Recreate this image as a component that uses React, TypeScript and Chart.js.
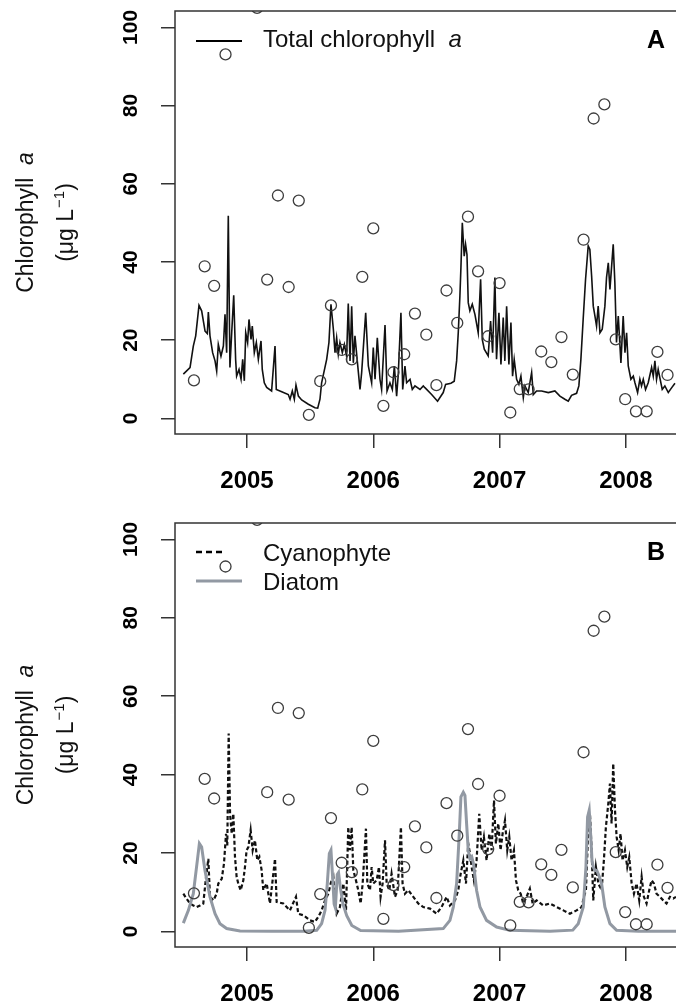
import React, { useEffect, useRef } from "react";
import { Chart, registerables } from "chart.js";

Chart.register(...registerables);

// ---------- data ----------
const yearTicks = [2005, 2006, 2007, 2008];
const yTicks = [0, 20, 40, 60, 80, 100];

const obsDates = [
  2004.58, 2004.665, 2004.74, 2004.83, 2005.08, 2005.16, 2005.245, 2005.33, 2005.41, 2005.49,
  2005.58, 2005.665, 2005.75, 2005.83, 2005.913, 2006.0, 2006.08, 2006.16, 2006.245, 2006.33,
  2006.42, 2006.5, 2006.58, 2006.665, 2006.75, 2006.83, 2006.91, 2007.0, 2007.085, 2007.16,
  2007.23, 2007.33, 2007.41, 2007.49, 2007.58, 2007.665, 2007.745, 2007.83, 2007.92, 2007.995,
  2008.08, 2008.165, 2008.25, 2008.33,
];
const obsValues = [
  9.7, 38.9, 33.9, 93.1, 105, 35.5, 57.0, 33.6, 55.7, 0.9,
  9.5, 28.9, 17.5, 15.1, 36.2, 48.6, 3.2, 11.8, 16.4, 26.8,
  21.4, 8.5, 32.7, 24.4, 51.6, 37.6, 21.0, 34.6, 1.5, 7.5,
  7.4, 17.1, 14.4, 20.8, 11.2, 45.7, 76.7, 80.3, 20.2, 4.9,
  1.8, 1.8, 17.0, 11.1,
];

const totalDates = [
  2004.496, 2004.549, 2004.575, 2004.594, 2004.62, 2004.641, 2004.668, 2004.686, 2004.694, 2004.707,
  2004.728, 2004.747, 2004.76, 2004.773, 2004.794, 2004.813, 2004.826, 2004.839, 2004.852, 2004.865,
  2004.879, 2004.895, 2004.91, 2004.918, 2004.937, 2004.953, 2004.966, 2004.979, 2004.99, 2005.005,
  2005.016, 2005.032, 2005.042, 2005.058, 2005.074, 2005.09, 2005.111, 2005.121, 2005.137, 2005.156,
  2005.195, 2005.222, 2005.232, 2005.275, 2005.327, 2005.341, 2005.359, 2005.375, 2005.388, 2005.407,
  2005.433, 2005.486, 2005.538, 2005.56, 2005.578, 2005.591, 2005.631, 2005.649, 2005.665, 2005.684,
  2005.697, 2005.71, 2005.723, 2005.736, 2005.755, 2005.771, 2005.789, 2005.802, 2005.816, 2005.829,
  2005.842, 2005.855, 2005.876, 2005.895, 2005.908, 2005.94, 2005.961, 2005.987, 2006.0, 2006.014,
  2006.032, 2006.053, 2006.066, 2006.093, 2006.109, 2006.132, 2006.151, 2006.167, 2006.185, 2006.198,
  2006.219, 2006.233, 2006.251, 2006.264, 2006.291, 2006.309, 2006.33, 2006.37, 2006.396,
  2006.409, 2006.462, 2006.509, 2006.554, 2006.573, 2006.615, 2006.641, 2006.66, 2006.673, 2006.686,
  2006.694, 2006.705, 2006.72, 2006.731, 2006.742, 2006.752, 2006.765, 2006.784, 2006.805, 2006.831,
  2006.85, 2006.863, 2006.879, 2006.91, 2006.929, 2006.945, 2006.963, 2006.976, 2006.995, 2007.011,
  2007.029, 2007.042, 2007.056, 2007.074, 2007.09, 2007.103, 2007.116, 2007.135, 2007.153, 2007.169,
  2007.188, 2007.201, 2007.227, 2007.254, 2007.267, 2007.293, 2007.333, 2007.386, 2007.438, 2007.478,
  2007.517, 2007.544, 2007.57, 2007.61, 2007.628, 2007.644, 2007.662, 2007.681, 2007.702, 2007.715,
  2007.729, 2007.742, 2007.755, 2007.768, 2007.781, 2007.795, 2007.813, 2007.834, 2007.847, 2007.861,
  2007.874, 2007.9, 2007.913, 2007.926, 2007.94, 2007.961, 2007.979, 2007.993, 2008.006, 2008.019,
  2008.04, 2008.059, 2008.072, 2008.093, 2008.111, 2008.124, 2008.138, 2008.156, 2008.177, 2008.204,
  2008.217, 2008.23, 2008.243, 2008.256, 2008.288, 2008.309, 2008.336, 2008.362, 2008.389,
];
const totalValues = [
  11.3, 13.0, 18.5, 21.1, 28.9, 27.5, 22.3, 21.7, 27.2, 21.1,
  16.8, 14.7, 12.1, 18.9, 15.9, 18.5, 26.6, 16.8, 51.8, 13.0,
  21.9, 31.5, 15.1, 10.8, 12.5, 10.0, 15.1, 9.6, 21.9, 19.4,
  25.3, 20.2, 23.6, 16.8, 19.4, 15.1, 19.8, 12.5, 9.1, 7.9,
  7.0, 18.5, 7.4, 6.8, 6.1, 4.9, 7.0, 4.9, 8.5, 5.7,
  4.7, 3.6, 2.7, 2.6, 4.9, 9.1, 15.1, 19.4, 29.2, 22.8,
  16.8, 20.6, 16.4, 19.4, 16.8, 18.9, 15.9, 29.4, 14.7, 28.7,
  14.2, 21.1, 13.8, 7.4, 11.7, 27.0, 13.4, 9.1, 18.1, 10.0,
  20.6, 10.0, 7.4, 23.9, 7.0, 9.1, 7.4, 13.4, 5.7, 11.3,
  27.0, 7.4, 13.4, 9.1, 10.0, 7.4, 8.3, 7.4, 8.3,
  7.85, 6.1, 4.4, 6.6, 8.7, 9.0, 9.5, 14.7, 21.9, 31.3,
  38.5, 50.0, 41.5, 44.5, 41.9, 29.6, 27.5, 29.2, 26.6, 21.9,
  35.6, 20.2, 17.7, 16.0, 24.9, 16.8, 36.0, 15.1, 27.0, 13.8,
  25.8, 14.7, 28.7, 13.8, 24.5, 10.8, 15.1, 10.0, 8.7, 10.8,
  5.3, 8.3, 6.6, 11.7, 6.1, 7.0, 7.0, 6.6, 7.0, 5.7,
  4.9, 4.4, 5.9, 6.4, 8.3, 15.1, 25.3, 35.6, 44.1, 43.2,
  36.4, 28.7, 26.2, 23.6, 28.7, 21.9, 22.8, 28.7, 36.0, 39.8,
  33.0, 44.5, 34.7, 19.4, 26.2, 14.2, 26.2, 16.8, 21.9, 13.4,
  10.0, 10.8, 9.1, 6.6, 10.0, 8.3, 10.0, 7.4, 9.1, 13.0,
  10.8, 14.7, 10.0, 12.5, 7.4, 8.3, 6.6, 7.8, 9.0,
];

const cyanoDates = [
  2004.496, 2004.522, 2004.549, 2004.575, 2004.602, 2004.628, 2004.654, 2004.676, 2004.694, 2004.707,
  2004.734, 2004.76, 2004.773, 2004.8, 2004.818, 2004.834, 2004.844, 2004.855, 2004.866, 2004.879,
  2004.892, 2004.905, 2004.918, 2004.931, 2004.95, 2004.971, 2004.984, 2004.997, 2005.011, 2005.029,
  2005.045, 2005.063, 2005.082, 2005.098, 2005.116, 2005.129, 2005.156, 2005.182, 2005.222, 2005.235,
  2005.288, 2005.34, 2005.388, 2005.406, 2005.446, 2005.499, 2005.538, 2005.565, 2005.591, 2005.618,
  2005.644, 2005.665, 2005.684, 2005.697, 2005.71, 2005.736, 2005.763, 2005.784, 2005.802, 2005.815,
  2005.829, 2005.842, 2005.863, 2005.881, 2005.9, 2005.916, 2005.942, 2005.953, 2005.974, 2005.987,
  2006.0, 2006.027, 2006.045, 2006.058, 2006.074, 2006.093, 2006.106, 2006.127, 2006.145, 2006.172,
  2006.193, 2006.219, 2006.232, 2006.251, 2006.277, 2006.317, 2006.356, 2006.396, 2006.449, 2006.501,
  2006.541, 2006.581, 2006.607, 2006.647, 2006.673, 2006.692, 2006.713, 2006.734, 2006.752, 2006.766,
  2006.779, 2006.797, 2006.818, 2006.839, 2006.858, 2006.876, 2006.897, 2006.919, 2006.937, 2006.956,
  2006.971, 2006.99, 2007.008, 2007.024, 2007.043, 2007.061, 2007.077, 2007.095, 2007.114, 2007.13,
  2007.148, 2007.167, 2007.188, 2007.214, 2007.24, 2007.262, 2007.293, 2007.346, 2007.399, 2007.452,
  2007.505, 2007.557, 2007.61, 2007.65, 2007.668, 2007.684, 2007.702, 2007.716, 2007.729, 2007.742,
  2007.763, 2007.782, 2007.808, 2007.826, 2007.842, 2007.861, 2007.874, 2007.887, 2007.9, 2007.914,
  2007.927, 2007.943, 2007.958, 2007.974, 2007.993, 2008.011, 2008.027, 2008.046, 2008.064, 2008.085,
  2008.106, 2008.125, 2008.143, 2008.164, 2008.185, 2008.204, 2008.222, 2008.243, 2008.27, 2008.296,
  2008.322, 2008.349, 2008.375, 2008.397,
];
const cyanoValues = [
  9.6, 8.3, 7.1, 6.6, 6.2, 6.6, 7.1, 13.9, 18.5, 8.8,
  7.9, 9.6, 12.2, 13.4, 17.3, 24.9, 21.9, 50.5, 30.0, 24.9,
  30.0, 19.0, 13.9, 12.2, 10.5, 13.0, 16.4, 20.7, 21.5, 25.8,
  20.7, 23.2, 18.1, 19.0, 15.6, 10.5, 12.2, 7.1, 18.5, 7.5,
  7.1, 5.35, 8.8, 4.5, 4.1, 2.8, 2.4, 3.7, 5.35, 7.9,
  9.6, 12.5, 13.9, 7.9, 4.5, 6.2, 12.2, 5.35, 26.6, 20.7,
  26.6, 15.6, 13.0, 10.5, 7.1, 12.2, 26.2, 12.2, 10.5, 16.4,
  12.2, 13.0, 16.4, 8.8, 12.2, 23.2, 12.2, 10.5, 14.7, 8.8,
  10.5, 26.6, 12.2, 9.6, 10.5, 8.8, 7.1, 6.2, 5.8, 4.5,
  6.2, 8.8, 6.6, 7.9, 10.5, 14.7, 18.1, 12.2, 22.4, 19.8,
  16.4, 13.0, 18.1, 30.0, 20.7, 24.1, 18.1, 24.9, 20.7, 33.4,
  22.4, 27.5, 20.7, 24.9, 28.3, 20.7, 24.1, 18.1, 20.7, 13.0,
  10.5, 9.6, 7.1, 8.8, 10.9, 7.1, 7.9, 6.6, 7.1, 6.2,
  5.35, 4.5, 5.35, 6.2, 8.8, 10.5, 25.8, 30.0, 20.7, 7.9,
  16.4, 12.2, 10.5, 18.1, 26.6, 32.6, 37.7, 27.5, 42.8, 30.9,
  24.1, 20.7, 24.9, 18.1, 20.7, 16.4, 18.9, 12.2, 9.6, 12.2,
  7.9, 13.9, 8.8, 7.1, 10.5, 13.0, 12.2, 9.6, 8.8, 7.9,
  7.1, 8.8, 8.4, 8.8,
];

const diatomDates = [
  2004.496, 2004.536, 2004.575, 2004.607, 2004.623, 2004.641, 2004.667, 2004.707, 2004.747, 2004.786,
  2004.839, 2004.945, 2005.2, 2005.45, 2005.552, 2005.591, 2005.618, 2005.636, 2005.652, 2005.665,
  2005.678, 2005.69, 2005.7, 2005.715, 2005.725, 2005.74, 2005.76, 2005.79, 2005.83, 2005.9,
  2006.2, 2006.554, 2006.607, 2006.634, 2006.66, 2006.681, 2006.694, 2006.713, 2006.726, 2006.739,
  2006.752, 2006.766, 2006.78, 2006.795, 2006.818, 2006.845, 2006.897, 2006.977, 2007.08, 2007.4,
  2007.58, 2007.623, 2007.663, 2007.684, 2007.697, 2007.71, 2007.721, 2007.732, 2007.742, 2007.755,
  2007.77, 2007.79, 2007.808, 2007.834, 2007.874, 2007.927, 2008.1, 2008.4,
];
const diatomValues = [
  2.1, 5.35, 9.6, 18.1, 22.4, 21.5, 15.6, 8.8, 4.5, 1.95,
  0.7, 0.1, 0.05, 0.05, 0.25, 1.95, 5.35, 12.2, 19.8, 20.7,
  13.9, 7.0, 6.0, 14.5, 15.0, 11.0, 7.0, 4.0, 1.5, 0.2,
  0.05, 0.7, 2.8, 6.2, 12.2, 24.9, 34.3, 35.5, 34.7, 27.5,
  20.7, 18.5, 19.0, 17.0, 10.5, 6.2, 2.8, 1.1, 0.25, 0.05,
  0.3, 1.95, 6.2, 16.4, 29.2, 30.9, 24.9, 18.1, 16.4, 15.5,
  15.5, 14.0, 12.2, 6.2, 1.95, 0.25, 0.05, 0.05,
];

// ---------- styling constants ----------
const FONT = '"Liberation Sans", Arial, Helvetica, sans-serif';
const X_MIN = 2004.43;
const X_MAX = 2008.508;
const Y_MIN = -4;
const Y_MAX = 104.2;
const CANVAS_W = 700;
const AXIS_COLOR = "#333333";
const GRAY = "#9299a3";

function toPoints(xs: number[], ys: number[]) {
  return xs.map((x, i) => ({ x, y: ys[i] }));
}

function drawYTitle(ctx: CanvasRenderingContext2D, cy: number) {
  const n = `23px ${FONT}`;
  const it = `italic 23px ${FONT}`;
  const sup = `15px ${FONT}`;
  ctx.save();
  ctx.fillStyle = "#111";
  ctx.textBaseline = "alphabetic";
  ctx.textAlign = "left";
  // line 1
  ctx.save();
  ctx.translate(33, cy);
  ctx.rotate(-Math.PI / 2);
  ctx.font = n;
  const w1 = ctx.measureText("Chlorophyll  ").width;
  ctx.font = it;
  const w2 = ctx.measureText("a").width;
  let x0 = -(w1 + w2) / 2;
  ctx.font = n;
  ctx.fillText("Chlorophyll  ", x0, 0);
  ctx.font = it;
  ctx.fillText("a", x0 + w1, 0);
  ctx.restore();
  // line 2
  ctx.save();
  ctx.translate(73, cy);
  ctx.rotate(-Math.PI / 2);
  ctx.font = n;
  const a = ctx.measureText("(\u03bcg L").width;
  const c = ctx.measureText(")").width;
  ctx.font = sup;
  const b = ctx.measureText("\u22121").width;
  x0 = -(a + b + c + 1) / 2;
  ctx.font = n;
  ctx.fillText("(\u03bcg L", x0, 0);
  ctx.font = sup;
  ctx.fillText("\u22121", x0 + a + 1, -9);
  ctx.font = n;
  ctx.fillText(")", x0 + a + 1 + b, 0);
  ctx.restore();
  ctx.restore();
}

const clipPlugin = {
  id: "plotClip",
  beforeDatasetsDraw(chart: any) {
    const { ctx, chartArea: a } = chart;
    ctx.save();
    ctx.beginPath();
    ctx.rect(a.left, a.top, a.right - a.left, a.bottom - a.top);
    ctx.clip();
  },
  afterDatasetsDraw(chart: any) {
    chart.ctx.restore();
  },
};

function makeDecor(kind: "A" | "B") {
  return {
    id: "decor" + kind,
    afterDraw(chart: any) {
      const ctx: CanvasRenderingContext2D = chart.ctx;
      const area = chart.chartArea;
      const yScale = chart.scales.y;
      ctx.save();
      // box
      ctx.strokeStyle = AXIS_COLOR;
      ctx.lineWidth = 1.5;
      ctx.strokeRect(area.left, area.top, area.right - area.left, area.bottom - area.top);
      // y tick labels (rotated, like R)
      ctx.fillStyle = "#000";
      ctx.font = `bold 21px ${FONT}`;
      ctx.textAlign = "center";
      ctx.textBaseline = "alphabetic";
      for (const t of yScale.ticks) {
        const py = yScale.getPixelForValue(t.value);
        ctx.save();
        ctx.translate(137, py);
        ctx.rotate(-Math.PI / 2);
        ctx.fillText(String(t.value), 0, 0);
        ctx.restore();
      }
      // y title
      drawYTitle(ctx, (area.top + area.bottom) / 2);
      // panel letter
      const top = area.top;
      ctx.fillStyle = "#000";
      ctx.font = `bold 25px ${FONT}`;
      ctx.textAlign = "center";
      ctx.fillText(kind, 656, top + 36.5);
      // legend
      ctx.textAlign = "left";
      ctx.fillStyle = "#111";
      if (kind === "A") {
        ctx.strokeStyle = "#000";
        ctx.lineWidth = 2.2;
        ctx.beginPath();
        ctx.moveTo(196, top + 30);
        ctx.lineTo(242, top + 30);
        ctx.stroke();
        ctx.font = `24px ${FONT}`;
        const label = "Total chlorophyll  ";
        const w = ctx.measureText(label).width;
        ctx.fillText(label, 263, top + 36);
        ctx.font = `italic 24px ${FONT}`;
        ctx.fillText("a", 263 + w, top + 36);
      } else {
        ctx.strokeStyle = "#000";
        ctx.lineWidth = 2.4;
        ctx.setLineDash([6, 4]);
        ctx.beginPath();
        ctx.moveTo(196, top + 29);
        ctx.lineTo(222, top + 29);
        ctx.stroke();
        ctx.setLineDash([]);
        ctx.strokeStyle = GRAY;
        ctx.lineWidth = 3;
        ctx.beginPath();
        ctx.moveTo(196, top + 58);
        ctx.lineTo(242, top + 58);
        ctx.stroke();
        ctx.font = `24px ${FONT}`;
        ctx.fillText("Cyanophyte", 263, top + 38);
        ctx.fillText("Diatom", 263, top + 67);
      }
      ctx.restore();
    },
  };
}

function Panel(props: { kind: "A" | "B"; top: number; height: number; padTop: number; xAxisH: number }) {
  const { kind, top, height, padTop, xAxisH } = props;
  const ref = useRef<HTMLCanvasElement>(null);
  useEffect(() => {
    const canvas = ref.current;
    if (!canvas) return;
    const obs = {
      label: "Observed",
      data: toPoints(obsDates, obsValues),
      showLine: false,
      pointRadius: 5.5,
      pointBorderWidth: 1.3,
      pointBorderColor: "#3d3d3d",
      pointBackgroundColor: "rgba(0,0,0,0)",
      clip: 0,
    };
    const lines: any[] =
      kind === "A"
        ? [
            {
              label: "Total chlorophyll a",
              data: toPoints(totalDates, totalValues),
              borderColor: "#111",
              borderWidth: 1.6,
              pointRadius: 0,
              tension: 0,
              clip: 0,
            },
          ]
        : [
            {
              label: "Diatom",
              data: toPoints(diatomDates, diatomValues),
              borderColor: GRAY,
              borderWidth: 3,
              pointRadius: 0,
              tension: 0,
              clip: 0,
            },
            {
              label: "Cyanophyte",
              data: toPoints(cyanoDates, cyanoValues),
              borderColor: "#111",
              borderWidth: 2.2,
              borderDash: [4, 2.5],
              pointRadius: 0,
              tension: 0,
              clip: 0,
            },
          ];
    const chart = new Chart(canvas, {
      type: "line",
      data: { datasets: [obs, ...lines] as any },
      options: {
        responsive: false,
        animation: false,
        devicePixelRatio: 1,
        events: [],
        layout: { padding: { left: 0, right: CANVAS_W - 690, top: padTop, bottom: 0 } },
        plugins: { legend: { display: false }, tooltip: { enabled: false } },
        scales: {
          x: {
            type: "linear",
            min: X_MIN,
            max: X_MAX,
            afterBuildTicks: (s: any) => {
              s.ticks = yearTicks.map((v) => ({ value: v }));
            },
            afterFit: (s: any) => {
              s.height = xAxisH;
            },
            grid: { drawOnChartArea: false, drawTicks: true, tickLength: 14, color: AXIS_COLOR, lineWidth: 1.5 },
            border: { display: false },
            ticks: {
              autoSkip: false,
              maxRotation: 0,
              minRotation: 0,
              padding: 19,
              color: "#000",
              font: { family: FONT, size: 24, weight: "bold" },
              callback: (v: any) => String(v),
            },
          },
          y: {
            type: "linear",
            min: Y_MIN,
            max: Y_MAX,
            afterBuildTicks: (s: any) => {
              s.ticks = yTicks.map((v) => ({ value: v }));
            },
            afterFit: (s: any) => {
              s.width = 175;
            },
            grid: { drawOnChartArea: false, drawTicks: true, tickLength: 14, color: AXIS_COLOR, lineWidth: 1.5 },
            border: { display: false },
            ticks: { display: false },
          },
        },
      } as any,
      plugins: [clipPlugin, makeDecor(kind)],
    });
    return () => chart.destroy();
  }, [kind, padTop, xAxisH]);
  return (
    <canvas
      ref={ref}
      width={CANVAS_W}
      height={height}
      style={{ position: "absolute", left: 0, top, display: "block" }}
    />
  );
}

export default function App() {
  return (
    <div
      style={{
        position: "absolute",
        left: 0,
        top: 0,
        width: 676,
        height: 1003,
        overflow: "hidden",
        background: "#fff",
      }}
    >
      <Panel kind="A" top={0} height={500} padTop={11} xAxisH={66} />
      <Panel kind="B" top={500} height={503} padTop={23} xAxisH={56} />
    </div>
  );
}
